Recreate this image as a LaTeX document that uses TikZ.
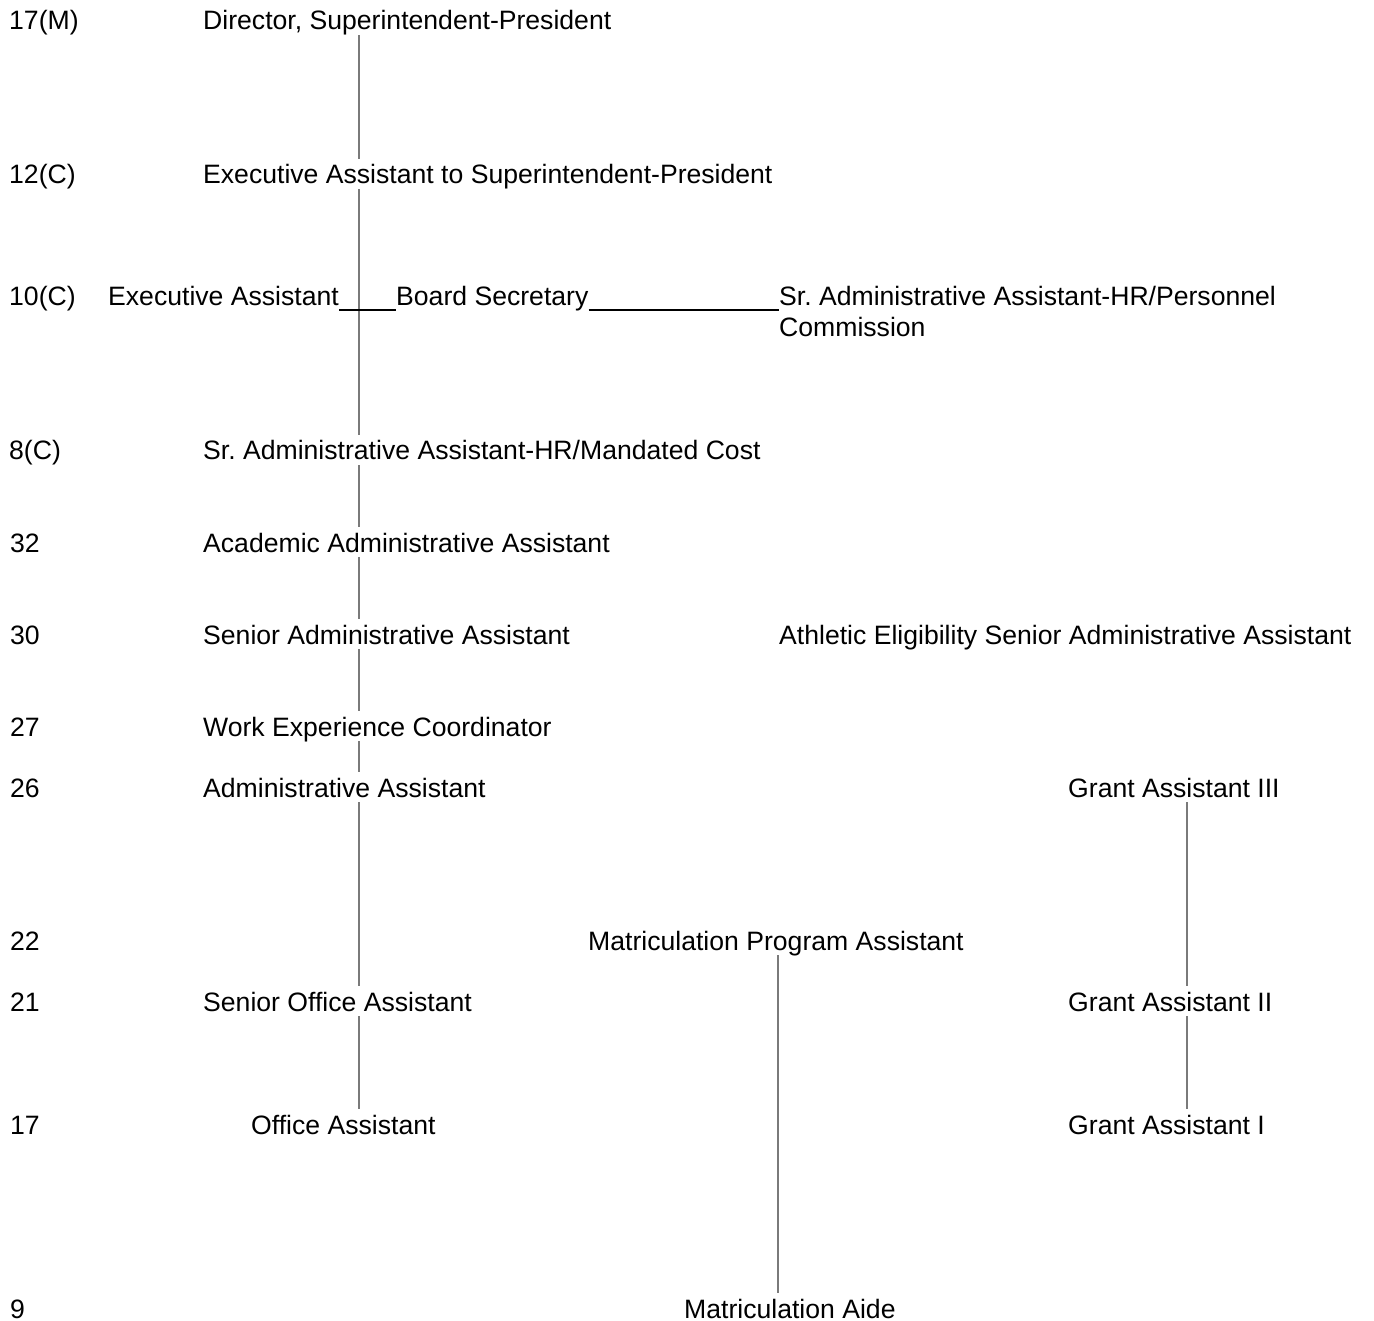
\documentclass[tikz,border=0pt]{standalone}
\usepackage{fontspec}
\setmainfont{Liberation Sans}
\frenchspacing
\begin{document}
\begin{tikzpicture}[x=1pt,y=-1pt,
  every node/.style={font=\fontsize{26.6}{31}\selectfont, inner xsep=0pt, inner ysep=0pt,
    anchor=base west, text height=25pt, text depth=5pt},
  spine/.style={draw=black!52, line width=1.3pt},
  link/.style={draw=black, line width=1.5pt}]
\useasboundingbox[fill=white] (0,0) rectangle (1374,1321);

% range column
\node (l1)  at (9,30)    {17(M)};
\node (l2)  at (9,184)   {12(C)};
\node (l3)  at (9,306)   {10(C)};
\node (l4)  at (9,460)   {8(C)};
\node (l5)  at (10,552)  {32};
\node (l6)  at (10,644)  {30};
\node (l7)  at (10,736)  {27};
\node (l8)  at (10,797)  {26};
\node (l9)  at (10,950)  {22};
\node (l10) at (10,1011) {21};
\node (l11) at (10,1134) {17};
\node (l12) at (10,1318) {9};

% positions
\node (dir)   at (203,30)   {Director, Superintendent-President};
\node (exa)   at (203,184)  {Executive Assistant to Superintendent-President};
\node (ea)    at (108,306)  {Executive Assistant};
\node (bs)    at (396,306)  {Board Secretary};
\node[text height=, text depth=] (hrpc) at (779,306)
  {\begin{tabular}[t]{@{}l@{}}Sr. Administrative Assistant-HR/Personnel\\Commission\end{tabular}};
\node (hrmc)  at (203,460)  {Sr. Administrative Assistant-HR/Mandated Cost};
\node (aaa)   at (203,552)  {Academic Administrative Assistant};
\node (saa)   at (203,644)  {Senior Administrative Assistant};
\node (aesaa) at (779,644)  {Athletic Eligibility Senior Administrative Assistant};
\node (wec)   at (203,736)  {Work Experience Coordinator};
\node (adm)   at (203,797)  {Administrative Assistant};
\node (ga3)   at (1068,797) {Grant Assistant III};
\node (mpa)   at (588,950)  {Matriculation Program Assistant};
\node (soa)   at (203,1011) {Senior Office Assistant};
\node (ga2)   at (1068,1011){Grant Assistant II};
\node (oa)    at (251,1134) {Office Assistant};
\node (ga1)   at (1068,1134){Grant Assistant I};
\node (ma)    at (684,1318) {Matriculation Aide};

% vertical reporting lines
\coordinate (sp) at (359,0);
\coordinate (gr) at (1187,0);
\coordinate (mx) at (778,0);

\draw[spine] (dir.south -| sp)  -- (exa.north -| sp);
\draw[spine] (exa.south -| sp)  -- (hrmc.north -| sp);
\draw[spine] (hrmc.south -| sp) -- (aaa.north -| sp);
\draw[spine] (aaa.south -| sp)  -- (saa.north -| sp);
\draw[spine] (saa.south -| sp)  -- (wec.north -| sp);
\draw[spine] (wec.south -| sp)  -- (adm.north -| sp);
\draw[spine] (adm.south -| sp)  -- (soa.north -| sp);
\draw[spine] (soa.south -| sp)  -- (oa.north -| sp);

\draw[spine] (ga3.south -| gr) -- (ga2.north -| gr);
\draw[spine] (ga2.south -| gr) -- (ga1.north -| gr);

\draw[spine] (mpa.south -| mx) -- (ma.north -| mx);

% horizontal links on the 10(C) row
\draw[link] ([yshift=-4pt]ea.base east) -- ([yshift=-4pt]bs.base west);
\draw[link] ([yshift=-4pt]bs.base east) -- ([yshift=-4pt]bs.base east -| hrpc.west);
\end{tikzpicture}
\end{document}
